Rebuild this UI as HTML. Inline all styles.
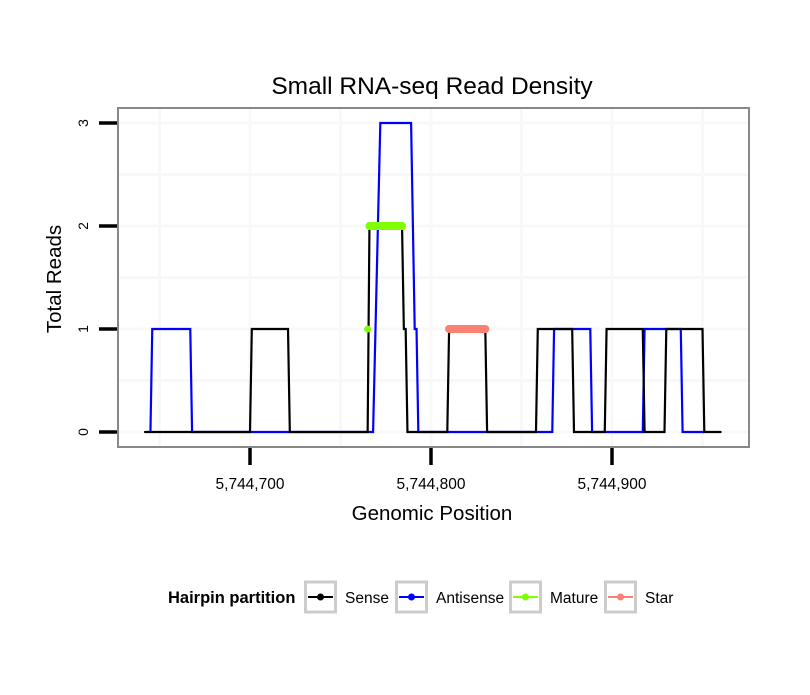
<!DOCTYPE html>
<html><head><meta charset="utf-8"><style>
body{margin:0;background:#fff;}
svg text{font-family:"Liberation Sans",sans-serif;}
</style></head><body>
<svg id="chart" width="810" height="690" viewBox="0 0 810 690" xmlns="http://www.w3.org/2000/svg">
<rect x="0" y="0" width="810" height="690" fill="#fff"/>
<text x="432" y="94" font-size="24.5" text-anchor="middle" fill="#000">Small RNA-seq Read Density</text>
<g id="grid"></g>
<g id="series"></g>
<rect x="118" y="108" width="631" height="339" fill="none" stroke="#888" stroke-width="2"/>
<g id="axes"></g>
<text x="432" y="520" font-size="20.5" text-anchor="middle">Genomic Position</text>
<text transform="translate(61,279) rotate(-90)" font-size="20.5" text-anchor="middle">Total Reads</text>
<g>
<text x="168" y="603" font-size="16.5" font-weight="bold">Hairpin partition</text>
<g id="legend-items"></g>
</g>
</svg>
<script>
const xTicks=[5744700,5744800,5744900];
const yTicks=[0,1,2,3];
const senseX=[5744642,5744700,5744701,5744721,5744722,5744765,5744766,5744784,5744785,5744786,5744787,5744809,5744810,5744830,5744831,5744858,5744859,5744878,5744879,5744896,5744897,5744917,5744918,5744929,5744930,5744950,5744951,5744960];
const senseY=[0,0,1,1,0,0,2,2,1,1,0,0,1,1,0,0,1,1,0,0,1,1,0,0,1,1,0,0];
const antiX=[5744645,5744646,5744667,5744668,5744768,5744772,5744789,5744791,5744792,5744793,5744867,5744868,5744888,5744889,5744917,5744918,5744938,5744939,5744951];
const antiY=[0,1,1,0,0,3,3,1,1,0,0,1,1,0,0,1,1,0,0];
const matureX=[5744766,5744784];
const matureY=[2,2];
const matureDotX=[5744765];
const matureDotY=[1];
const starX=[5744810,5744830];
const starY=[1,1];
const legendLabels=["Sense","Antisense","Mature","Star"];
const legendColors=["#000000","#0000ff","#7fff00","#fa8072"];

const NS="http://www.w3.org/2000/svg";
function xs(g){return 250+(g-5744700)*1.81;}
function ys(v){return 432-v*103;}
function mk(tag,attrs,parent){const e=document.createElementNS(NS,tag);for(const k in attrs)e.setAttribute(k,attrs[k]);parent.appendChild(e);return e;}
const grid=document.getElementById('grid');
const series=document.getElementById('series');
const axes=document.getElementById('axes');
for(let v=-0.5;v<=3.5;v+=0.5){const y=ys(v);if(y<110||y>445)continue;
 const l=mk('line',{x1:119,x2:748,y1:y,y2:y,stroke:'#f8f8f8','stroke-width':3},grid);
 
 }
for(let g=5744650;g<=5744950;g+=50){const x=xs(g);
 const l=mk('line',{x1:x,x2:x,y1:109,y2:446,stroke:'#f8f8f8','stroke-width':3},grid);
 
 }
function poly(X,Y,color,w,name){const pts=X.map((x,i)=>xs(x)+','+ys(Y[i])).join(' ');
 const p=mk('polyline',{points:pts,fill:'none',stroke:color,'stroke-width':w,'stroke-linecap':'round','stroke-linejoin':'miter'},series);
 
 }
poly(antiX,antiY,'#0000ff',2.2,'antisense-line');
poly(senseX,senseY,'#000000',2.2,'sense-line');
poly(matureX,matureY,'#7fff00',8,'mature-line');
poly(starX,starY,'#fa8072',8,'star-line');
matureDotX.forEach((g,i)=>{const c=mk('circle',{cx:xs(g),cy:ys(matureDotY[i]),r:3.5,fill:'#7fff00'},series);
 
 });
yTicks.forEach(v=>{const y=ys(v);
 const t=mk('line',{x1:99,x2:117,y1:y,y2:y,stroke:'#000','stroke-width':3.5},axes);
 
 
 const tx=mk('text',{transform:`translate(88,${y}) rotate(-90)`,'font-size':14,'text-anchor':'middle'},axes);
 tx.textContent=String(v);
 
 });
xTicks.forEach(g=>{const x=xs(g);
 const t=mk('line',{x1:x,x2:x,y1:448,y2:465,stroke:'#000','stroke-width':3.5},axes);
 
 
 const tx=mk('text',{x:x,y:489,'font-size':15.5,'text-anchor':'middle'},axes);
 tx.textContent=g.toString().replace(/\B(?=(\d{3})+(?!\d))/g,',');
 
 });
const li=document.getElementById('legend-items');
const boxX=[304,395,509,604];
legendLabels.forEach((lab,i)=>{const bx=boxX[i];
 const g=mk('g',{},li);
 
 
 mk('rect',{x:bx+1.5,y:582,width:30,height:30,fill:'#fff',stroke:'#ccc','stroke-width':3},g);
 mk('line',{x1:bx+4,x2:bx+29,y1:597,y2:597,stroke:legendColors[i],'stroke-width':2},g);
 mk('circle',{cx:bx+16.5,cy:597,r:3.5,fill:legendColors[i]},g);
 const t=mk('text',{x:bx+41,y:603,'font-size':15.5},g);t.textContent=lab;});
</script>
</body></html>
